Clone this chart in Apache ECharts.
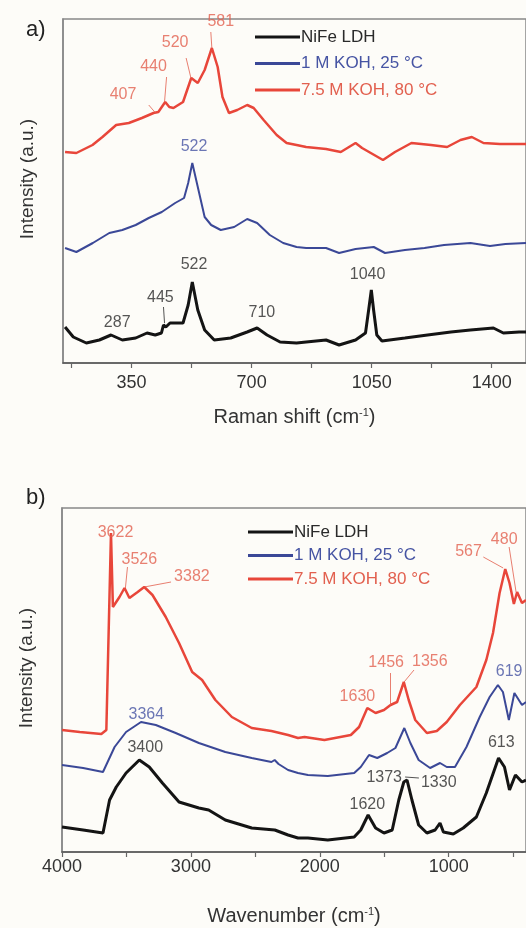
<!DOCTYPE html>
<html>
<head>
<meta charset="utf-8">
<script src="https://cdn.jsdelivr.net/npm/echarts@6/dist/echarts.min.js"></script>
<style>
  html, body { margin: 0; padding: 0; background: #fdfcf8; }
  #main { width: 526px; height: 928px; }
</style>
</head>
<body>
<div id="main"></div>
<script>
// 图例名称
const seriesNames = ['NiFe LDH', '1 M KOH, 25 °C', '7.5 M KOH, 80 °C'];

// a) Raman 光谱 [拉曼位移, 强度]
const ramanNiFe = [[156,36],[180,26],[218,20],[256,23],[290,28],[323,23],[362,25],[395,30],[419,28],[437,30],[443,38],[450,36],[462,40],[500,40],[515,58],[527,81],[543,53],[563,33],[591,23],[639,25],[687,31],[716,35],[745,28],[783,21],[831,20],[859,21],[917,23],[955,18],[1003,23],[1032,30],[1042,55],[1049,73],[1056,52],[1065,28],[1080,22],[1147,25],[1213,28],[1281,31],[1338,33],[1405,35],[1434,30],[1480,31],[1500,31]];
const raman1M = [[156,115],[189,111],[237,120],[285,130],[323,133],[362,138],[400,145],[438,151],[477,160],[503,165],[515,180],[527,200],[543,176],[563,146],[582,138],[610,133],[649,136],[687,144],[716,140],[753,128],[792,120],[831,116],[859,115],[917,115],[955,110],[1003,114],[1056,116],[1089,110],[1147,113],[1204,115],[1261,118],[1338,120],[1395,117],[1440,119],[1500,120]];
const raman75M = [[156,211],[189,210],[236,218],[265,226],[305,238],[342,240],[380,245],[414,250],[428,251],[448,261],[460,256],[472,255],[500,261],[524,285],[543,280],[563,293],[584,315],[601,296],[615,266],[634,250],[658,253],[687,258],[706,255],[735,243],[773,228],[802,220],[831,218],[859,216],[917,214],[960,211],[1003,220],[1022,215],[1083,203],[1118,211],[1166,220],[1223,218],[1270,216],[1309,223],[1342,226],[1376,220],[1424,219],[1500,219]];

// b) FTIR 光谱 [波数, 强度]
const ftirNiFe = [[4000,25],[3836,22],[3682,19],[3631,52],[3579,65],[3503,79],[3400,92],[3323,85],[3221,69],[3092,50],[2938,44],[2862,42],[2733,32],[2528,24],[2349,22],[2246,17],[2169,14],[2092,14],[1938,12],[1733,15],[1682,22],[1625,37],[1567,24],[1502,19],[1438,22],[1387,52],[1348,70],[1323,72],[1285,52],[1233,27],[1169,19],[1105,22],[1067,29],[1041,20],[964,18],[887,24],[785,35],[708,59],[613,94],[567,85],[528,62],[482,77],[431,70],[400,72]];
const ftir1M = [[4000,87],[3836,84],[3682,80],[3592,105],[3503,120],[3387,130],[3272,127],[3118,119],[2938,109],[2733,100],[2528,94],[2375,90],[2350,92],[2320,88],[2246,82],[2169,79],[2092,77],[1938,76],[1733,79],[1682,85],[1618,97],[1554,94],[1477,99],[1413,104],[1344,124],[1297,109],[1233,92],[1144,84],[1067,89],[1015,85],[951,85],[862,105],[759,135],[682,155],[618,167],[579,160],[533,132],[490,159],[431,147],[400,150]];
const ftir75M = [[4000,122],[3862,120],[3695,118],[3656,122],[3620,319],[3605,245],[3554,255],[3515,264],[3477,254],[3413,260],[3362,265],[3298,257],[3195,235],[3092,209],[2990,180],[2913,172],[2810,152],[2682,135],[2528,124],[2375,121],[2246,117],[2169,114],[2118,115],[1964,112],[1759,117],[1695,125],[1631,144],[1567,139],[1502,142],[1451,147],[1400,150],[1348,170],[1310,152],[1259,132],[1169,119],[1092,121],[1015,130],[913,147],[785,165],[708,192],[656,219],[605,259],[561,283],[528,269],[494,248],[469,260],[431,249],[400,252]];

// 刻度
const ramanTickLabels = [350, 700, 1050, 1400];
const ramanTicks = [175, 350, 525, 700, 875, 1050, 1225, 1400];
const ftirTickLabels = [4000, 3000, 2000, 1000];
const ftirTicks = [4000, 3500, 3000, 2500, 2000, 1500, 1000, 500];

// 峰位标注 [文字, x, y, 系列序号]
const ramanPeakLabels = [
  ['407', 325, 268, 2], ['440', 414, 296, 2], ['520', 477, 320, 2], ['581', 610, 341, 2],
  ['522', 532, 216, 1],
  ['522', 532, 98, 0], ['445', 434, 65, 0], ['287', 308, 40, 0], ['710', 730, 50, 0], ['1040', 1038, 88, 0]
];
const ramanLeaders = [
  [[400, 258], [420, 250], 2], [[452, 286], [446, 261], 2], [[509, 305], [523, 285], 2],
  [[581, 331], [584, 315], 2], [[443, 56], [446, 40], 0]
];
const ftirPeakLabels = [
  ['3622', 3585, 319, 2], ['3526', 3400, 292, 2], ['3382', 2992, 275, 2], ['1630', 1708, 155, 2],
  ['1456', 1485, 189, 2], ['1356', 1146, 190, 2], ['567', 846, 300, 2], ['480', 569, 312, 2],
  ['3364', 3346, 137, 1], ['619', 531, 180, 1],
  ['3400', 3354, 104, 0], ['1620', 1631, 47, 0], ['1373', 1500, 74, 0], ['1330', 1077, 69, 0], ['613', 592, 109, 0]
];
const ftirLeaders = [
  [[3492, 285], [3508, 264], 2], [[3154, 270], [3362, 265], 2], [[1454, 179], [1454, 147], 2],
  [[1269, 182], [1346, 170], 2], [[731, 295], [577, 284], 2], [[531, 305], [477, 260], 2],
  [[1231, 74], [1338, 75], 0]
];

const lineColors = ['#141414', '#3b4897', '#e8463a'];
const lineWidths = [3, 2, 2.5];
const labelColors = ['#2a2a2a', '#4654a3', '#e2604f'];
const fontFamily = '"Liberation Sans", Arial, sans-serif';

const chart = echarts.init(document.getElementById('main'));

function xAxisFor(gridIndex, min, max, inverse, ticks, labels, name, nameGap, labelMargin) {
  return {
    type: 'value', gridIndex: gridIndex, min: min, max: max, inverse: inverse,
    name: name, nameLocation: 'middle', nameGap: nameGap,
    nameTextStyle: {
      fontSize: 20, color: '#333', fontFamily: fontFamily,
      rich: { sup: { fontSize: 11, verticalAlign: 'top', lineHeight: 12, color: '#333', fontFamily: fontFamily } }
    },
    axisLine: { show: true, onZero: false, lineStyle: { color: '#555', width: 1.5 } },
    axisTick: { show: true, inside: false, length: 5, customValues: ticks, lineStyle: { color: '#666', width: 1.2 } },
    axisLabel: {
      customValues: labels, fontSize: 18, color: '#333', margin: labelMargin, fontFamily: fontFamily,
      formatter: v => String(v)
    },
    splitLine: { show: false }
  };
}

function yAxisFor(gridIndex, max) {
  return {
    type: 'value', gridIndex: gridIndex, min: 0, max: max,
    name: 'Intensity (a.u.)', nameLocation: 'middle', nameGap: 26,
    nameTextStyle: { fontSize: 19, color: '#333', fontFamily: fontFamily, padding: [0, 0, 0, 24] },
    axisLine: { show: true, lineStyle: { color: '#888', width: 1.5 } },
    axisTick: { show: false }, axisLabel: { show: false }, splitLine: { show: false }
  };
}

function lineSeries(i, xIdx, data) {
  return {
    name: seriesNames[i], type: 'line', xAxisIndex: xIdx, yAxisIndex: xIdx,
    data: data, showSymbol: false, symbol: 'none', silent: true,
    lineStyle: { color: lineColors[i], width: lineWidths[i] },
    itemStyle: { color: lineColors[i] }, z: 3 - i
  };
}

function labelSeries(xIdx, list) {
  return {
    type: 'scatter', xAxisIndex: xIdx, yAxisIndex: xIdx, symbolSize: 0, silent: true, z: 5,
    data: list.map(p => ({
      value: [p[1], p[2]], name: p[0],
      label: { show: true, position: 'inside', formatter: p[0], color: labelColors[p[3]], fontSize: 16, fontFamily: fontFamily }
    }))
  };
}

function leaderSeries(xIdx, list) {
  return {
    type: 'lines', coordinateSystem: 'cartesian2d', xAxisIndex: xIdx, yAxisIndex: xIdx, silent: true, z: 4,
    data: list.map(l => ({ coords: [l[0], l[1]], lineStyle: { color: labelColors[l[2]], width: 0.9, opacity: 0.9 } }))
  };
}

function legendFor(left, top, gap) {
  return {
    orient: 'vertical', left: left, top: top, itemGap: gap, padding: 0,
    icon: 'rect', itemWidth: 45, itemHeight: 3,
    selectedMode: false,
    textStyle: { fontSize: 17, fontFamily: fontFamily, lineHeight: 18, padding: [0, 0, 0, -4] },
    data: seriesNames.map((n, i) => ({ name: n, textStyle: { color: labelColors[i] } }))
  };
}

const option = {
  backgroundColor: '#fdfcf8',
  animation: false,
  title: [
    { text: 'a)', left: 21, top: 14, textStyle: { fontSize: 22, fontWeight: 'normal', color: '#222', fontFamily: fontFamily } },
    { text: 'b)', left: 21, top: 482, textStyle: { fontSize: 22, fontWeight: 'normal', color: '#222', fontFamily: fontFamily } }
  ],
  legend: [legendFor(255, 28, 8.5), legendFor(248, 523, 5.5)],
  grid: [
    { left: 63, top: 19, width: 470, height: 344, show: true, borderColor: '#888', borderWidth: 1.5, backgroundColor: 'transparent' },
    { left: 62, top: 508, width: 468, height: 344, show: true, borderColor: '#888', borderWidth: 1.5, backgroundColor: 'transparent' }
  ],
  xAxis: [
    xAxisFor(0, 150, 1500, false, ramanTicks, ramanTickLabels, 'Raman shift (cm{sup|-1})', 44, 11),
    xAxisFor(1, 400, 4000, true, ftirTicks, ftirTickLabels, 'Wavenumber (cm{sup|-1})', 54, 6)
  ],
  yAxis: [yAxisFor(0, 344), yAxisFor(1, 344)],
  series: [
    lineSeries(0, 0, ramanNiFe), lineSeries(1, 0, raman1M), lineSeries(2, 0, raman75M),
    lineSeries(0, 1, ftirNiFe), lineSeries(1, 1, ftir1M), lineSeries(2, 1, ftir75M),
    labelSeries(0, ramanPeakLabels), labelSeries(1, ftirPeakLabels),
    leaderSeries(0, ramanLeaders), leaderSeries(1, ftirLeaders)
  ]
};

chart.setOption(option);
</script>
</body>
</html>
